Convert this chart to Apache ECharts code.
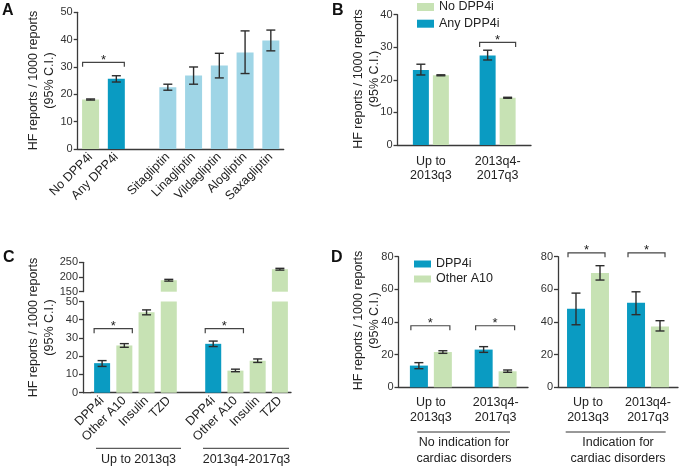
<!DOCTYPE html>
<html><head><meta charset="utf-8">
<script src="https://cdn.jsdelivr.net/npm/echarts@6/dist/echarts.min.js"></script>
<style>html,body{margin:0;padding:0;background:#fff}#c{width:685px;height:467px}</style>
</head><body><div id="c"></div>
<script>
// ---------- Panel A ----------
const catsA = ['No DPP4i', 'Any DPP4i', '', 'Sitagliptin', 'Linagliptin', 'Vildagliptin', 'Alogliptin', 'Saxagliptin'];
const valA = [18.1, 25.7, null, 22.6, 26.9, 30.5, 35.3, 39.7];
const loA  = [17.9, 24.5, null, 21.5, 23.7, 26.0, 27.6, 35.9];
const hiA  = [18.3, 26.8, null, 23.7, 30.0, 35.0, 43.2, 43.5];
const sigA = [[0, 1, 31.7]];

// ---------- Panel B ----------
const catsB = ['Up to\n2013q3', '2013q4-\n2017q3'];
const anyB = [23.0, 27.5];
const anyBlo = [21.5, 26.1];
const anyBhi = [24.8, 29.1];
const noB = [21.4, 14.5];
const noBlo = [21.25, 14.35];
const noBhi = [21.55, 14.65];
const sigB = [[1, 1, 31.5]];

// ---------- Panel C ----------
const catsC = ['DPP4i', 'Other A10', 'Insulin', 'TZD', '', 'DPP4i', 'Other A10', 'Insulin', 'TZD'];
const valC = [16.2, 25.9, 44.1, 189, null, 26.8, 12.1, 17.5, 226.5];
const loC  = [14.4, 24.9, 42.7, 186, null, 25.3, 11.5, 16.6, 223.5];
const hiC  = [17.6, 26.9, 45.4, 192, null, 28.3, 12.9, 18.5, 229.5];
const sigC = [[0, 1, 35.1], [5, 6, 35.1]];
const groupsC = ['Up to 2013q3', '2013q4-2017q3'];

// ---------- Panel D ----------
const catsD = ['Up to\n2013q3', '2013q4-\n2017q3'];
const dppNoInd = [13.3, 23.1];
const dppNoIndLo = [11.4, 21.4];
const dppNoIndHi = [15.1, 24.9];
const othNoInd = [21.6, 9.8];
const othNoIndLo = [20.8, 9.2];
const othNoIndHi = [22.4, 10.6];
const dppInd = [48.1, 51.8];
const dppIndLo = [38.3, 44.5];
const dppIndHi = [57.7, 58.5];
const othInd = [70.0, 37.3];
const othIndLo = [65.7, 34.5];
const othIndHi = [74.5, 40.8];
const sigDNo = [[0, 0, 37.7], [1, 1, 37.7]];
const sigDInd = [[0, 0, 82.4], [1, 1, 82.4]];
const groupsD = ['No indication for\ncardiac disorders', 'Indication for\ncardiac disorders'];

// ---------- styles ----------
const FONT = '"Liberation Sans", Arial, Helvetica, sans-serif';
const TEAL = '#0a9bc2', GREEN = '#c7e2b4', LBLUE = '#9fd5e6';
const AX = '#3a3a3a', TXT = '#222';
const colorA = [GREEN, TEAL, TEAL, LBLUE, LBLUE, LBLUE, LBLUE, LBLUE];
const colorC = [TEAL, GREEN, GREEN, GREEN, GREEN, TEAL, GREEN, GREEN, GREEN];

function yAx(gi, min, max, interval, offset) {
  return {
    type: 'value', gridIndex: gi, min: min, max: max, interval: interval, offset: offset || 0,
    axisLine: { show: true, lineStyle: { color: AX, width: 1.3 } },
    axisTick: { show: true, length: 4, lineStyle: { color: AX, width: 1.3 } },
    splitLine: { show: false },
    axisLabel: { fontSize: 11, color: '#333', margin: 5, fontFamily: FONT }
  };
}
function xAx(gi, cats, label, show) {
  return {
    type: 'category', gridIndex: gi, data: cats, show: show !== false,
    axisLine: { show: true, onZero: false, lineStyle: { color: AX, width: 1.3 } },
    axisTick: { show: false },
    axisLabel: Object.assign({ interval: 0, fontSize: 12.5, color: TXT, fontFamily: FONT }, label)
  };
}
function barSeries(name, xi, vals, opts) {
  return Object.assign({
    type: 'bar', name: name, xAxisIndex: xi, yAxisIndex: xi, silent: true, clip: true,
    data: vals.map(v => v == null ? '-' : v)
  }, opts);
}
function errSeries(xi, lo, hi, dx, keep) {
  const data = [];
  lo.forEach((l, i) => {
    if (l != null && (!keep || keep(l, hi[i]))) data.push([i, l, hi[i]]);
  });
  return {
    type: 'custom', xAxisIndex: xi, yAxisIndex: xi, z: 5, silent: true, data: data,
    encode: { x: 0, y: 1 },
    renderItem: function (params, api) {
      const a = api.coord([api.value(0), api.value(1)]);
      const b = api.coord([api.value(0), api.value(2)]);
      const x = a[0] + dx, w = 4.5;
      const st = { stroke: '#2d2d2d', lineWidth: 1.4 };
      return { type: 'group', children: [
        { type: 'line', shape: { x1: x, y1: a[1], x2: x, y2: b[1] }, style: st },
        { type: 'line', shape: { x1: x - w, y1: a[1], x2: x + w, y2: a[1] }, style: st },
        { type: 'line', shape: { x1: x - w, y1: b[1], x2: x + w, y2: b[1] }, style: st }
      ]};
    }
  };
}
function sigSeries(xi, data, offL, offR) {
  return {
    type: 'custom', xAxisIndex: xi, yAxisIndex: xi, z: 6, silent: true, clip: false, data: data,
    encode: { x: 0, y: 2 },
    renderItem: function (params, api) {
      const a = api.coord([api.value(0), api.value(2)]);
      const b = api.coord([api.value(1), api.value(2)]);
      const x1 = a[0] + offL, x2 = b[0] + offR, y = a[1];
      return { type: 'group', children: [
        { type: 'polyline', shape: { points: [[x1, y + 4.5], [x1, y], [x2, y], [x2, y + 4.5]] },
          style: { stroke: '#444', lineWidth: 1.2, fill: null } },
        { type: 'text', x: (x1 + x2) / 2, y: y - 2,
          style: { text: '*', fontSize: 13, fontFamily: FONT, fill: '#222', align: 'center', verticalAlign: 'middle' } }
      ]};
    }
  };
}
function txt(x, y, text, size, opts) {
  return Object.assign({ type: 'text', x: x, y: y, silent: true,
    style: Object.assign({ text: text, fontSize: size, fontFamily: FONT, fill: TXT, align: 'center', verticalAlign: 'middle' }, opts && opts.style) },
    opts && opts.el);
}
function yTitle(x, y) {
  return txt(x, y, 'HF reports / 1000 reports\n(95% C.I.)', 12.5, { el: { rotation: Math.PI / 2 }, style: { lineHeight: 16 } });
}
function hline(x1, x2, y) {
  return { type: 'line', silent: true, shape: { x1: x1, y1: y, x2: x2, y2: y }, style: { stroke: '#333', lineWidth: 1 } };
}

const rotLabel = { rotate: 45, margin: 6 };

const option = {
  animation: false,
  textStyle: { fontFamily: FONT },
  grid: [
    { left: 77.7, top: 12.3, width: 206, height: 136.7 },
    { left: 397.5, top: 14.7, width: 133.5, height: 130.3 },
    { left: 91, top: 262.3, width: 200, height: 29.4 },
    { left: 91, top: 301.5, width: 200, height: 91.2 },
    { left: 398.5, top: 256.7, width: 129.5, height: 130.6 },
    { left: 558, top: 256.7, width: 120, height: 130.6 }
  ],
  xAxis: [
    xAx(0, catsA, rotLabel),
    xAx(1, catsB, { lineHeight: 13.5, margin: 10 }),
    xAx(2, catsC, {}, false),
    xAx(3, catsC, rotLabel),
    xAx(4, catsD, { lineHeight: 15.5, margin: 7 }),
    xAx(5, catsD, { lineHeight: 15.5, margin: 7 })
  ],
  yAxis: [
    yAx(0, 0, 50, 10),
    yAx(1, 0, 40, 10),
    yAx(2, 150, 250, 50, 8),
    yAx(3, 0, 50, 10, 8),
    yAx(4, 0, 80, 20),
    yAx(5, 0, 80, 20)
  ],
  legend: [
    { data: ['No DPP4i', 'Any DPP4i'], orient: 'vertical', left: 417, top: 0, padding: 0,
      itemWidth: 17, itemHeight: 8, itemGap: 2.7, icon: 'rect', selectedMode: false,
      textStyle: { fontSize: 12.5, lineHeight: 14, color: TXT, fontFamily: FONT } },
    { data: ['DPP4i', 'Other A10'], orient: 'vertical', left: 414, top: 257, padding: 0,
      itemWidth: 17, itemHeight: 7, itemGap: 1, icon: 'rect', selectedMode: false,
      textStyle: { fontSize: 12.5, lineHeight: 14, color: TXT, fontFamily: FONT } }
  ],
  series: [
    // A
    barSeries('A', 0, valA, { barWidth: 17,
      data: valA.map((v, i) => v == null ? '-' : { value: v, itemStyle: { color: colorA[i] } }) }),
    errSeries(0, loA, hiA, 0),
    sigSeries(0, sigA, -8, 8),
    // B
    barSeries('Any DPP4i', 1, anyB, { barWidth: 16, barGap: '25%', itemStyle: { color: TEAL } }),
    barSeries('No DPP4i', 1, noB, { barWidth: 16, barGap: '25%', itemStyle: { color: GREEN } }),
    errSeries(1, anyBlo, anyBhi, -10),
    errSeries(1, noBlo, noBhi, 10),
    sigSeries(1, sigB, -18, 18),
    // C upper (broken axis part)
    barSeries('C', 2, valC, { barWidth: 16,
      data: valC.map((v, i) => (v == null || v <= 150) ? '-' : { value: v, itemStyle: { color: colorC[i] } }) }),
    errSeries(2, loC, hiC, 0, (l, h) => l >= 150),
    // C lower
    barSeries('C', 3, valC, { barWidth: 16,
      data: valC.map((v, i) => v == null ? '-' : { value: v, itemStyle: { color: colorC[i] } }) }),
    errSeries(3, loC, hiC, 0, (l, h) => h <= 50),
    sigSeries(3, sigC, -8, 8),
    // D left
    barSeries('DPP4i', 4, dppNoInd, { barWidth: 18, barGap: '33%', itemStyle: { color: TEAL } }),
    barSeries('Other A10', 4, othNoInd, { barWidth: 18, barGap: '33%', itemStyle: { color: GREEN } }),
    errSeries(4, dppNoIndLo, dppNoIndHi, -12),
    errSeries(4, othNoIndLo, othNoIndHi, 12),
    sigSeries(4, sigDNo, -20, 19),
    // D right
    barSeries('DPP4i', 5, dppInd, { barWidth: 18, barGap: '33%', itemStyle: { color: TEAL } }),
    barSeries('Other A10', 5, othInd, { barWidth: 18, barGap: '33%', itemStyle: { color: GREEN } }),
    errSeries(5, dppIndLo, dppIndHi, -12),
    errSeries(5, othIndLo, othIndHi, 12),
    sigSeries(5, sigDInd, -20, 17)
  ],
  graphic: [
    txt(2, 3, 'A', 16, { style: { fontWeight: 'bold', align: 'left', verticalAlign: 'top', fill: '#111' } }),
    txt(332, 3, 'B', 16, { style: { fontWeight: 'bold', align: 'left', verticalAlign: 'top', fill: '#111' } }),
    txt(3, 250, 'C', 16, { style: { fontWeight: 'bold', align: 'left', verticalAlign: 'top', fill: '#111' } }),
    txt(331, 250, 'D', 16, { style: { fontWeight: 'bold', align: 'left', verticalAlign: 'top', fill: '#111' } }),
    yTitle(42, 80.5),
    yTitle(366.5, 79),
    yTitle(41.5, 327.5),
    yTitle(366.5, 320.5),
    // corner of C x-axis (axis line joins the offset y-axis)
    { type: 'line', silent: true, shape: { x1: 83, y1: 392.7, x2: 91, y2: 392.7 }, style: { stroke: AX, lineWidth: 1.3 } },
    hline(96, 181, 448.3), txt(138.5, 459.5, groupsC[0], 12.5),
    hline(203, 289, 448.3), txt(246.5, 459.5, groupsC[1], 12.5),
    hline(417.3, 510, 432), txt(464, 450.3, groupsD[0], 12.5, { style: { lineHeight: 15.5 } }),
    hline(565.7, 665.7, 432), txt(618, 450.3, groupsD[1], 12.5, { style: { lineHeight: 15.5 } })
  ]
};
const chart = echarts.init(document.getElementById('c'), null, { renderer: 'canvas' });
chart.setOption(option);
</script>
</body></html>
